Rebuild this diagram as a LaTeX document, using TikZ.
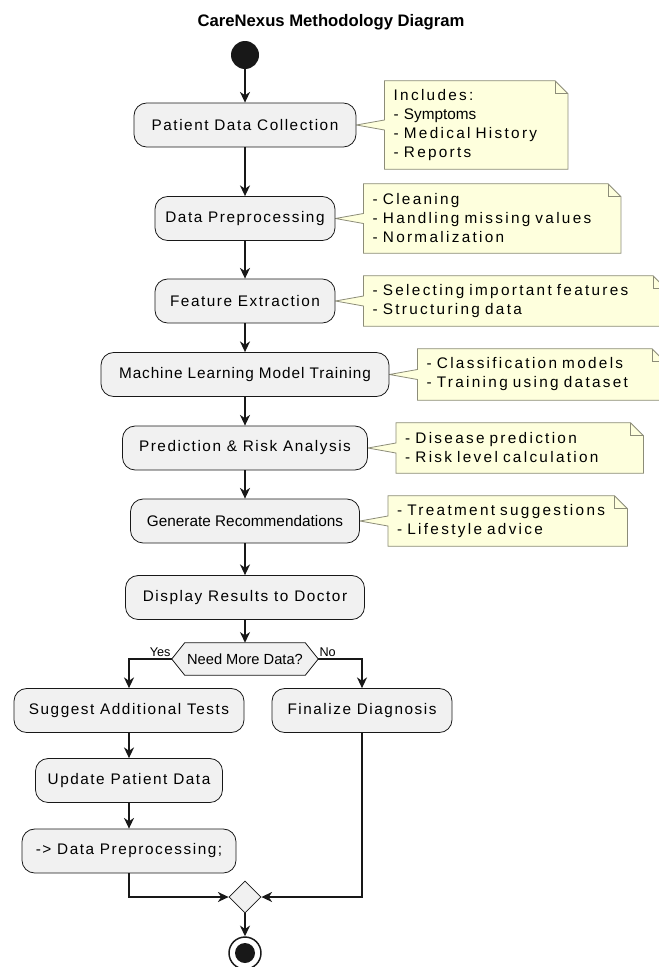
\documentclass[tikz,border=0pt]{standalone}
\usepackage{fontspec}
\setmainfont{Liberation Sans}
\newfontfamily\boxfont[LetterSpace=10]{Liberation Sans}
\newfontfamily\tightfont[LetterSpace=6]{Liberation Sans}
\newfontfamily\widefont[LetterSpace=15]{Liberation Sans}
\usepackage{tikz}
\usetikzlibrary{calc, backgrounds, arrows.meta, shapes.geometric}
\definecolor{actfill}{RGB}{241, 241, 241}
\definecolor{actline}{RGB}{24, 24, 24}
\definecolor{notefill}{RGB}{254, 255, 221}
\definecolor{noteline}{RGB}{140, 140, 120}
\newlength\upx
\setlength\upx{0.75pt}

\tikzset{
  act/.style={draw=actline, line width=0.6pt, fill=actfill, rounded corners=9.5pt,
    minimum height=44\upx, inner sep=0pt, font=\boxfont\fontsize{11.5}{13.5}\selectfont},
  note/.style={anchor=west, inner xsep=9\upx, inner ysep=0pt, align=left,
    font=\widefont\fontsize{11.5}{14.25}\selectfont},
  noteedge/.style={draw=noteline, line width=0.6pt, fill=notefill},
  flow/.style={draw=actline, line width=1.1pt, -{Stealth[length=8pt, width=7.5pt, inset=2.5pt]}},
  branch/.style={font=\fontsize{9.5}{11}\selectfont, inner sep=0pt}
}

\begin{document}
\begin{tikzpicture}[x=0.75pt, y=-0.75pt]
  \useasboundingbox (0, 0) rectangle (659, 967);

  \node[font=\bfseries\fontsize{12.5}{15}\selectfont] (title) at (331, 22) {CareNexus Methodology Diagram};

  \node[circle, fill=actline, minimum size=28\upx, inner sep=0pt] (start) at (245, 55) {};

  \node[act, minimum width=222\upx] (pdc) at (245, 125) {Patient Data Collection};
  \node[act, minimum width=180\upx] (dpp) at (245, 218.5) {Data Preprocessing};
  \node[act, minimum width=180\upx] (fe) at (245, 301) {Feature Extraction};
  \node[act, minimum width=288\upx, font=\tightfont\fontsize{11.5}{13.5}\selectfont] (ml) at (245, 374.5) {Machine Learning Model Training};
  \node[act, minimum width=245\upx] (pred) at (245, 448) {Prediction \& Risk Analysis};
  \node[act, minimum width=229\upx, font=\normalfont\fontsize{11.5}{13.5}\selectfont] (gen) at (245, 521) {Generate Recommendations};
  \node[act, minimum width=239\upx] (disp) at (245, 597.5) {Display Results to Doctor};

  \node[minimum width=120\upx, minimum height=32\upx, inner sep=0pt, font=\fontsize{11}{13}\selectfont] (dec) at (245, 659) {Need More Data?};
  \coordinate (decL) at ($(dec.west)+(-13, 0)$);
  \coordinate (decR) at ($(dec.east)+(13, 0)$);
  \node[branch, anchor=base east] (yes) at ($(decL)+(-1, -3)$) {Yes};
  \node[branch, anchor=base west] (no) at ($(decR)+(1, -3)$) {No};

  \node[act, minimum width=230\upx] (sug) at (129, 710.5) {Suggest Additional Tests};
  \node[act, minimum width=180\upx] (fin) at (362, 710.5) {Finalize Diagnosis};
  \node[act, minimum width=187\upx] (upd) at (129, 780.5) {Update Patient Data};
  \node[act, minimum width=214\upx] (dpp2) at (129, 851) {-> Data Preprocessing;};

  \node[diamond, draw=actline, line width=0.6pt, fill=actfill, minimum width=32\upx, minimum height=32\upx, inner sep=0pt] (join) at (245, 897) {};
  \node[circle, draw=actline, line width=1.1pt, fill=white, minimum size=32\upx, inner sep=0pt] (stop) at (245, 953) {};
  \node[circle, fill=actline, minimum size=20\upx, inner sep=0pt] (stopdot) at (stop) {};

  \node[note, text width=165\upx, minimum height=88\upx] (npdc) at ($(pdc.east)+(28, 0)$)
    {Includes:\\{\normalfont - Symptoms}\\- Medical History\\- Reports};
  \node[note, text width=239\upx, minimum height=69\upx] (ndpp) at ($(dpp.east)+(28, 0)$)
    {- Cleaning\\- Handling missing values\\- Normalization};
  \node[note, text width=284\upx, minimum height=50\upx] (nfe) at ($(fe.east)+(28, 0)$)
    {- Selecting important features\\- Structuring data};
  \node[note, text width=229\upx, minimum height=51\upx] (nml) at ($(ml.east)+(28, 0)$)
    {- Classification models\\- Training using dataset};
  \node[note, text width=229\upx, minimum height=50\upx] (npred) at ($(pred.east)+(28, 0)$)
    {- Disease prediction\\- Risk level calculation};
  \node[note, text width=221\upx, minimum height=50\upx] (ngen) at ($(gen.east)+(28, 0)$)
    {- Treatment suggestions\\- Lifestyle advice};

  \begin{scope}[on background layer]
    \foreach \n/\b in {npdc/pdc, ndpp/dpp, nfe/fe, nml/ml, npred/pred, ngen/gen} {
      \filldraw[noteedge] (\n.north west) -- ($(\n.north east)+(-13, 0)$) -- ($(\n.north east)+(0, 13)$)
        -- (\n.south east) -- (\n.south west) -- ($(\n.west)+(0, 5)$) -- (\b.east) -- ($(\n.west)+(0, -5)$) -- cycle;
      \draw[noteedge, fill=none] ($(\n.north east)+(-13, 0)$) |- ($(\n.north east)+(0, 13)$);
    }
    \filldraw[draw=actline, line width=0.6pt, fill=actfill] (decL) -- (dec.north west) -- (dec.north east)
      -- (decR) -- (dec.south east) -- (dec.south west) -- cycle;
  \end{scope}

  \foreach \a/\b in {start/pdc, pdc/dpp, dpp/fe, fe/ml, ml/pred, pred/gen, gen/disp, disp/dec, sug/upd, upd/dpp2, join/stop}
    \draw[flow] (\a) -- (\b);
  \draw[flow] (decL) -| (sug);
  \draw[flow] (decR) -| (fin);
  \draw[flow] (dpp2) |- (join);
  \draw[flow] (fin) |- (join);

\end{tikzpicture}
\end{document}
